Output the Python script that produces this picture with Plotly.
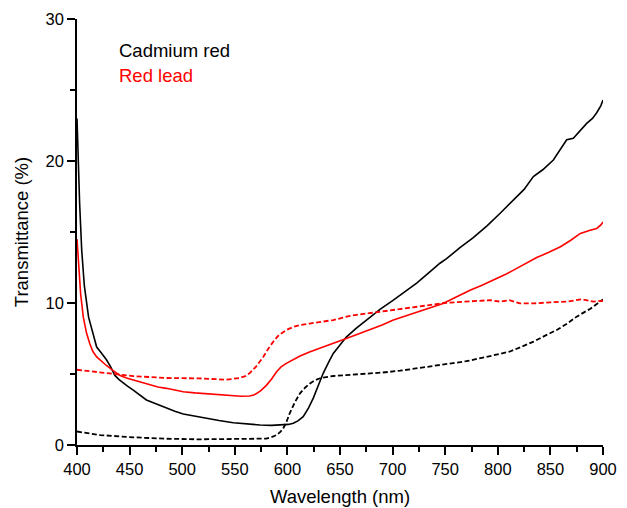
import plotly.graph_objects as go

# Cadmium red, solid
cd_solid_x = [400, 401, 402.5, 404.5, 407, 411, 415, 418.7, 423, 428, 432, 436, 440, 444, 448, 453.5, 460, 466, 475, 485, 493, 501, 512, 523, 535, 548.6, 561, 574, 585, 596, 601, 605.6, 610, 615, 620, 624.6, 629, 634, 639, 643.6, 650, 656, 665, 675, 688, 700.7, 712, 722.9, 734, 745, 751, 764, 776.7, 790, 802, 814.7, 825, 833.8, 843, 852.8, 860, 865.5, 871.8, 878, 884.5, 890, 894, 898, 900]
cd_solid_y = [23.0, 20.5, 17.0, 13.7, 11.2, 9.0, 7.8, 6.9, 6.5, 6.0, 5.5, 4.9, 4.6, 4.35, 4.15, 3.87, 3.5, 3.17, 2.9, 2.58, 2.38, 2.18, 2.02, 1.88, 1.72, 1.57, 1.48, 1.41, 1.38, 1.41, 1.45, 1.53, 1.7, 2.0, 2.6, 3.3, 4.1, 5.05, 5.8, 6.45, 7.05, 7.6, 8.2, 8.8, 9.55, 10.2, 10.8, 11.4, 12.1, 12.8, 13.1, 13.9, 14.6, 15.45, 16.3, 17.25, 18.0, 18.9, 19.4, 20.07, 20.9, 21.5, 21.6, 22.1, 22.65, 23.0, 23.4, 23.9, 24.3]

# Cadmium red, dashed
cd_dash_x = [400, 422, 453.5, 485, 516, 548.6, 570, 580, 585, 589.7, 593, 596, 599, 602, 607, 612, 617, 621.5, 626, 631, 643.6, 660, 675, 690, 707, 722, 738.7, 755, 770, 789, 811, 822, 834, 845, 856, 866, 875, 888, 898.7, 900]
cd_dash_y = [0.95, 0.7, 0.54, 0.44, 0.4, 0.4, 0.42, 0.45, 0.55, 0.7, 0.9, 1.17, 1.6, 2.2, 3.0, 3.64, 4.05, 4.34, 4.55, 4.7, 4.86, 4.93, 5.0, 5.1, 5.23, 5.38, 5.56, 5.72, 5.9, 6.2, 6.57, 6.9, 7.28, 7.7, 8.1, 8.55, 9.04, 9.6, 10.2, 10.25]

# Red lead, solid
rl_solid_x = [400, 401.5, 403.5, 406, 409, 412, 415, 418.7, 423, 428, 434, 441, 447, 453.5, 461, 469, 477, 485, 493, 501, 512, 523, 535, 548.6, 556, 564, 568, 571, 575, 580, 585, 589.7, 594, 599, 605, 612, 621, 631, 643, 656, 667, 678.5, 690, 700.7, 713, 726, 737, 748, 760, 773.6, 785, 795.8, 807, 818, 828, 837, 848, 859.6, 869, 878.5, 887, 894, 898, 900]
rl_solid_y = [14.5, 12.6, 10.6, 9.0, 7.9, 7.16, 6.6, 6.2, 5.9, 5.6, 5.25, 4.9, 4.72, 4.58, 4.38, 4.2, 4.08, 3.99, 3.87, 3.75, 3.67, 3.6, 3.52, 3.45, 3.43, 3.45, 3.52, 3.64, 3.85, 4.2, 4.65, 5.16, 5.5, 5.75, 6.0, 6.27, 6.55, 6.8, 7.15, 7.5, 7.8, 8.1, 8.45, 8.8, 9.1, 9.39, 9.65, 9.97, 10.4, 10.9, 11.25, 11.6, 12.0, 12.44, 12.85, 13.2, 13.55, 13.96, 14.4, 14.9, 15.1, 15.25, 15.5, 15.7]

# Red lead, dashed
rl_dash_x = [400, 422, 453.5, 485, 516, 542, 554.7, 560, 564, 570, 577, 582, 586.6, 592, 599, 605, 612, 621, 631, 643.6, 659.5, 675, 691, 707, 722.9, 735, 748, 770, 792.6, 802, 811, 821, 834, 850, 865.5, 879.8, 890.8, 899, 900]
rl_dash_y = [5.3, 5.1, 4.85, 4.72, 4.69, 4.6, 4.72, 4.85, 5.05, 5.5, 6.2, 6.8, 7.28, 7.75, 8.1, 8.3, 8.45, 8.55, 8.68, 8.8, 9.1, 9.25, 9.4, 9.55, 9.7, 9.85, 10.0, 10.1, 10.2, 10.1, 10.2, 9.97, 9.97, 10.05, 10.1, 10.26, 10.1, 10.15, 10.1]

legend_labels = ["Cadmium red", "Red lead"]
x_title = "Wavelength (nm)"
y_title = "Transmittance (%)"

FONT = "Liberation Sans, Arial, sans-serif"
DASH = "5px,2.5px"

fig = go.Figure()
fig.add_trace(go.Scatter(x=cd_solid_x, y=cd_solid_y, mode="lines",
                         line=dict(color="black", width=1.6), showlegend=False))
fig.add_trace(go.Scatter(x=cd_dash_x, y=cd_dash_y, mode="lines",
                         line=dict(color="black", width=1.8, dash=DASH), showlegend=False))
fig.add_trace(go.Scatter(x=rl_solid_x, y=rl_solid_y, mode="lines",
                         line=dict(color="#ff0000", width=1.6), showlegend=False))
fig.add_trace(go.Scatter(x=rl_dash_x, y=rl_dash_y, mode="lines",
                         line=dict(color="#ff0000", width=1.8, dash=DASH), showlegend=False))

fig.add_annotation(x=(117 - 77) / 526, y=(445 - 50) / 426, xref="paper", yref="paper",
                   text=legend_labels[0], showarrow=False, xanchor="left", yanchor="middle",
                   font=dict(family=FONT, size=18.5, color="black"))
fig.add_annotation(x=(117 - 77) / 526, y=(445 - 75) / 426, xref="paper", yref="paper",
                   text=legend_labels[1], showarrow=False, xanchor="left", yanchor="middle",
                   font=dict(family=FONT, size=18.5, color="#ff0000"))

fig.update_layout(
    width=627, height=508,
    margin=dict(l=77, r=24, t=19, b=63, autoexpand=False),
    paper_bgcolor="white", plot_bgcolor="white",
    font=dict(family=FONT, size=16, color="black"),
    xaxis=dict(range=[400, 900], tickmode="linear", tick0=400, dtick=50,
               ticks="outside", ticklen=8, tickwidth=1.5, tickcolor="black",
               minor=dict(dtick=25, ticks="outside", ticklen=5, tickwidth=1.5, tickcolor="black", showgrid=False),
               showline=True, linecolor="black", linewidth=1.5, showgrid=False, zeroline=False,
               title=dict(text=x_title, font=dict(size=18.5), standoff=14),
               tickfont=dict(size=16.5), automargin=False),
    yaxis=dict(range=[0, 30], tickmode="linear", tick0=0, dtick=10,
               ticks="outside", ticklen=8, tickwidth=1.5, tickcolor="black",
               minor=dict(dtick=5, ticks="outside", ticklen=5, tickwidth=1.5, tickcolor="black", showgrid=False),
               showline=True, linecolor="black", linewidth=1.5, showgrid=False, zeroline=False,
               title=dict(text=y_title, font=dict(size=18.5), standoff=12),
               tickfont=dict(size=16.5), automargin=False),
)

fig.write_html("out.html", config={"displayModeBar": False},
               post_script="document.body.style.margin='0';document.body.style.overflow='hidden';")
